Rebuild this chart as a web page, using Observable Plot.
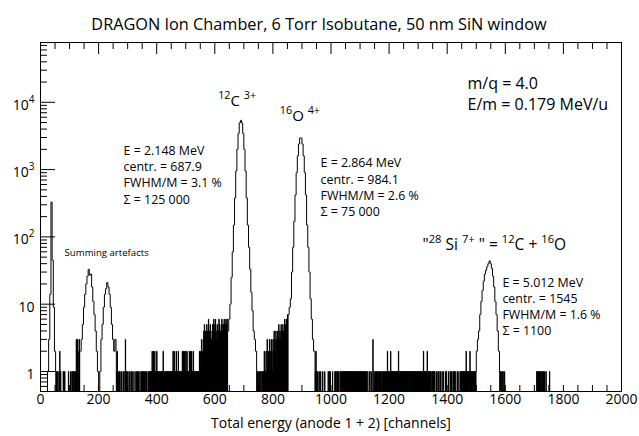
<!DOCTYPE html>
<html><head><meta charset="utf-8">
<script src="https://cdn.jsdelivr.net/npm/d3@7"></script>
<script src="https://cdn.jsdelivr.net/npm/@observablehq/plot@0.6"></script>
<style>body{margin:0;background:#fff} svg{display:block}</style>
</head><body><div id="chart"></div>
<script>
// ---- Data ----
const nChannels = 2000;
const peakBin = 4; // peak profiles are given per 4-channel bin

// Peak profiles (counts per 4-channel bin) with their first channel
const spikeStart = 24;
const spike = [1,3,14,330,45,9,2];
const summingStart = 136;
const summing = [2,3,5,9,14,20,26,33,27,28,18,11,7,4,2,1,0,1,3,5,9,14,17,21,18,14,9,5,3,2,3];
const carbonStart = 644;
const carbon = [4,6,10,25,60,150,380,950,2000,3450,4950,5400,4950,3450,2000,950,380,150,70,33,15,8,4,3,2];
const oxygenStart = 852;
const oxygen = [7,9,12,30,70,170,420,900,1600,2400,2950,2950,2400,1600,900,420,150,70,30,12,6,3,2];
const siliconStart = 1500;
const silicon = [2,3,4,7,11,16,22,28,32,36,40,44,40,34,26,18,11,7,4,2];

// Background counts, one digit per channel, with their first channel
const bgLowStart = 52;
const bgLow = "1010010000" + "0100200100" + "0000001010" + "0100000000" + "0000100000" +
  "0100001010" + "0110010001" + "0300130201" + "0302";
const bgMidStart = 260;
const bgMid =
  "2010200100" + "0101000010" + "0000100100" + "0030010000" +
  "1000010000" + "0100100010" + "0000010000" + "1001000100" + "0010000101" + "0100100010" + "0010010000" + "1001001010" +
  "1010201020" + "0102010100" + "2010100101" + "0101001010" + "1020100100" + "1010010101" + "0101010010" + "1010102010" +
  "2010100201" + "0101201010" + "1010010120" + "1020102010" + "2010201010" + "1020102010" + "2010102010" + "1010010101" +
  "0101010210" + "2010301020" +
  "3040503040" + "2050403060" + "4030504030" + "3050406040" + "5060403050" + "3040605040" + "4050604050" + "5060405060" + "5060";
const bgValleyStart = 744;
const bgValley = "0010000100" + "1000100010" + "0101002010" + "1020103010" + "2010302010" + "3020103020" +
  "4030204030" + "3040305030" + "4030504040" + "5040306050" + "40605070";
const bgHighStart = 944;
const bgHigh =
  "2010200100" + "1000010000" + "1000000100" + "0000100000" + "0000001000" + "100100" +
  "0000010000" + "0001010100" + "0101001000" + "0100101010" + "1001010100" +
  "1010010101" + "0100101010" + "0101001010" + "1001010010" + "0101010100" +
  "1010100101" + "0010101001" + "0100100000" + "0101000010" + "0000300010" +
  "0010100101" + "0000101001" + "0100010100" + "0101001010" + "0100200101" +
  "0100020101" + "0101010101" + "0100101010" + "1020101010" + "0101001010" +
  "1010101010" + "0101010101" + "1010010101" + "0101010100" + "1001010010" +
  "1010101010" + "0101010120" + "1010101010" + "1200101010" + "0100100010" +
  "1010010100" + "0001000010" + "0100001000" + "0010000100" + "0000100100" +
  "0000100000" + "1001010000" + "1010010100" + "0000100100" + "0000101010" +
  "1010101010" + "0101020101" + "1010100120" + "1010101010" + "0101010101";
const bgSiStart = 1580;
const bgSi = "10100100010010000100";
const bgTailStart = 1708;
const bgTail = "1001001000100101000010010001000010000000000010000";

const xTickValues = [0,200,400,600,800,1000,1200,1400,1600,1800,2000];
const yTickValues = [1,10,100,1000,10000];
const yTickLabels = ["1","10","10^{2}","10^{3}","10^{4}"];

// ---- Build the per-channel histogram ----
const counts = new Array(nChannels).fill(0);
function placeDigits(start, s) { [...s].forEach((c, i) => { counts[start + i] = +c; }); }
function placeBins(start, arr) { arr.forEach((c, i) => { for (let k = 0; k < peakBin; k++) counts[start + i * peakBin + k] = c; }); }
placeDigits(bgLowStart, bgLow);
placeDigits(bgMidStart, bgMid);
placeDigits(bgValleyStart, bgValley);
placeDigits(bgHighStart, bgHigh);
placeDigits(bgSiStart, bgSi);
placeDigits(bgTailStart, bgTail);
placeBins(spikeStart, spike);
placeBins(summingStart, summing);
placeBins(carbonStart, carbon);
placeBins(oxygenStart, oxygen);
placeBins(siliconStart, silicon);
const points = counts.map((c, i) => ({ch: i, count: c}));
points.push({ch: nChannels, count: counts[nChannels - 1]});

const floor = 0.3; // empty channels drawn below the frame
const yDomain = [0.504, 77400];
const minor50 = d3.range(0, 2001, 50);
const yMinor = [];
for (const dec of [0.1, 1, 10, 100, 1000, 10000]) for (let m = 2; m <= 9; m++) {
  const v = dec * m; if (v > yDomain[0] && v < yDomain[1]) yMinor.push(v);
}
const W = 639, H = 436, mt = 42, mr = 18, mb = 45, ml = 40;
const fw = W - ml - mr, fh = H - mt - mb;

const blockC = "E = 2.148 MeV\ncentr. = 687.9\nFWHM/M = 3.1 %\nΣ = 125 000";
const blockO = "E = 2.864 MeV\ncentr. = 984.1\nFWHM/M = 2.6 %\nΣ = 75 000";
const blockSi = "E = 5.012 MeV\ncentr. = 1545\nFWHM/M = 1.6 %\nΣ = 1100";

const chart = Plot.plot({
  width: W, height: H,
  marginTop: mt, marginRight: mr, marginBottom: mb, marginLeft: ml,
  style: {fontFamily: "Open Sans", background: "white", color: "black"},
  x: {domain: [0, 2000], axis: null},
  y: {type: "log", domain: yDomain, axis: null},
  marks: [
    Plot.line(points, {x: "ch", y: d => d.count > 0 ? d.count : floor, curve: "step-after", stroke: "black", strokeWidth: 1, clip: true}),
    // ticks inside the frame
    Plot.ruleX(minor50.filter(d => d % 200 !== 0), {x: d => d, insetBottom: fh - 7, stroke: "black"}),
    Plot.ruleX(xTickValues, {x: d => d, insetBottom: fh - 12, stroke: "black"}),
    Plot.ruleX(minor50, {x: d => d, insetTop: fh - 6, stroke: "black"}),
    Plot.ruleY(yMinor, {y: d => d, insetRight: fw - 7, stroke: "black"}),
    Plot.ruleY(yTickValues, {y: d => d, insetRight: fw - 15, stroke: "black"}),
    Plot.frame({stroke: "black"}),
    // axis labels
    Plot.text(xTickValues, {x: d => d, text: d => String(d), frameAnchor: "bottom", dy: 12, fontSize: 14}),
    Plot.text(yTickValues, {y: d => d, text: (d, i) => yTickLabels[i], frameAnchor: "left", textAnchor: "end", dx: -6, dy: 3, fontSize: 14}),
    Plot.text(["Total energy (anode 1 + 2) [channels]"], {text: d => d, frameAnchor: "bottom", dy: 36, fontSize: 14}),
    Plot.text(["DRAGON Ion Chamber, 6 Torr Isobutane, 50 nm SiN window"], {text: d => d, frameAnchor: "top", dy: -24, dx: -12, fontSize: 16.3}),
    // annotations
    Plot.text([{ch: 677, c: 10290, t: "^{12}C ^{3+}"}], {x: "ch", y: "c", text: "t", fontSize: 15}),
    Plot.text([{ch: 893, c: 6160, t: "^{16}O ^{4+}"}], {x: "ch", y: "c", text: "t", fontSize: 15}),
    Plot.text([{ch: 286, c: 861, t: blockC}], {x: "ch", y: "c", text: "t", textAnchor: "start", fontSize: 12.4, lineHeight: 1.32}),
    Plot.text([{ch: 964, c: 561, t: blockO}], {x: "ch", y: "c", text: "t", textAnchor: "start", fontSize: 12.4, lineHeight: 1.3}),
    Plot.text([{ch: 1590, c: 9.55, t: blockSi}], {x: "ch", y: "c", text: "t", textAnchor: "start", fontSize: 12.4, lineHeight: 1.3}),
    Plot.text([{ch: 1470, c: 13770, t: "m/q = 4.0\nE/m = 0.179 MeV/u"}], {x: "ch", y: "c", text: "t", textAnchor: "start", fontSize: 16, lineHeight: 1.3}),
    Plot.text([{ch: 1315, c: 74.6, t: "\"^{28} Si ^{7+} \" = ^{12}C + ^{16}O"}], {x: "ch", y: "c", text: "t", textAnchor: "start", fontSize: 15.5}),
    Plot.text([{ch: 83, c: 58.7, t: "Summing artefacts"}], {x: "ch", y: "c", text: "t", textAnchor: "start", fontSize: 9.6})
  ]
});

// superscripts: convert ^{...} markup into raised tspans
function addSpan(el, str, sup) {
  const ts = document.createElementNS("http://www.w3.org/2000/svg", "tspan");
  ts.textContent = str;
  if (sup) { ts.setAttribute("baseline-shift", "super"); ts.setAttribute("font-size", "72%"); }
  el.appendChild(ts);
}
chart.querySelectorAll("text").forEach(t => {
  if (t.querySelector("tspan")) return;
  const s = t.textContent;
  if (!s.includes("^{")) return;
  t.textContent = "";
  const re = /\^\{([^}]*)\}/g;
  let last = 0, m;
  while ((m = re.exec(s))) {
    if (m.index > last) addSpan(t, s.slice(last, m.index), false);
    addSpan(t, m[1], true);
    last = re.lastIndex;
  }
  if (last < s.length) addSpan(t, s.slice(last), false);
});
document.getElementById("chart").appendChild(chart);
</script></body></html>
